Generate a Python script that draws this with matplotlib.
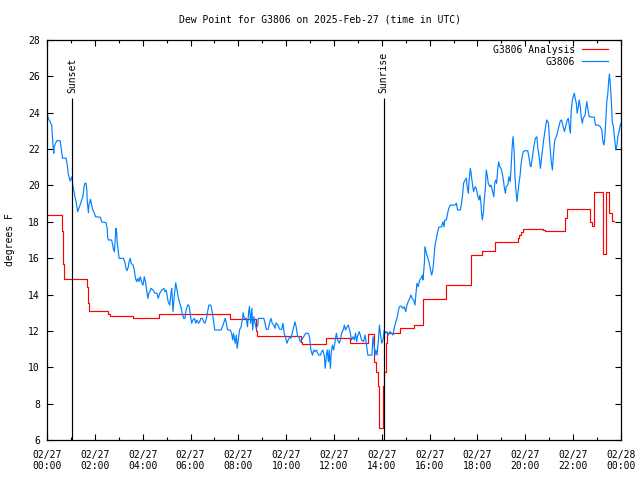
import matplotlib
matplotlib.use('Agg')
import matplotlib.pyplot as plt
from matplotlib.ticker import MultipleLocator

# station observations: (minutes after 02/27 00:00 UTC, dew point degF)
station_obs = [
    (0, 24.0), (3, 23.7), (8, 23.5), (12, 23.3), (13, 22.87), (15, 22.22), (17, 21.77), (18, 22.13), (22, 22.35),
    (25, 22.46), (33, 22.46), (35, 22.13), (37, 21.77), (39, 21.5), (48, 21.5), (50, 21.2), (52, 20.94), (53, 20.67),
    (56, 20.4), (58, 20.24), (61, 20.4), (63, 20.48), (65, 19.93), (67, 19.75), (70, 19.38), (73, 19.1), (75, 18.83),
    (77, 18.56), (80, 18.74), (83, 18.92), (87, 19.2), (90, 19.38), (93, 19.93), (95, 20.12), (98, 20.12), (100, 19.75),
    (101, 19.1), (104, 18.5), (105, 18.92), (109, 19.24), (112, 18.92), (115, 18.65), (119, 18.46), (122, 18.28),
    (134, 18.25), (137, 18.0), (148, 17.95), (151, 17.64), (152, 17.18), (154, 17.0), (162, 17.0), (165, 16.72),
    (166, 16.54), (169, 16.35), (171, 17.0), (173, 17.64), (175, 17.37), (176, 16.9), (179, 16.35), (181, 15.99),
    (192, 15.99), (196, 15.72), (198, 15.44), (201, 15.31), (204, 15.53), (206, 15.81), (209, 15.99), (211, 15.72),
    (216, 15.62), (219, 15.35), (222, 14.89), (225, 14.71), (228, 14.89), (231, 14.71), (234, 14.98), (238, 14.62),
    (241, 14.52), (244, 14.98), (247, 14.71), (250, 14.25), (253, 13.79), (256, 14.1), (258, 14.16), (261, 14.34),
    (266, 14.25), (271, 14.07), (276, 14.07), (279, 13.79), (283, 14.07), (288, 14.25), (293, 14.34), (296, 14.16),
    (299, 14.25), (302, 13.88), (304, 13.6), (308, 13.42), (311, 14.07), (313, 14.34), (316, 13.06), (319, 13.88),
    (323, 14.65), (326, 14.25), (329, 13.88), (333, 13.52), (336, 13.33), (339, 12.97), (343, 12.69), (346, 12.69),
    (349, 13.15), (353, 13.42), (356, 13.42), (359, 12.97), (363, 12.42), (366, 12.6), (370, 12.69), (373, 12.42),
    (376, 12.6), (380, 12.42), (383, 12.5), (386, 12.69), (390, 12.69), (393, 12.5), (396, 12.42), (400, 12.69),
    (403, 13.06), (406, 13.42), (411, 13.42), (415, 12.97), (418, 12.5), (421, 12.05), (437, 12.05), (440, 12.23),
    (443, 12.42), (447, 12.69), (450, 12.42), (453, 12.05), (460, 12.05), (463, 11.87), (466, 11.5), (468, 11.87),
    (472, 11.32), (475, 11.77), (477, 11.04), (480, 11.5), (483, 12.05), (487, 12.23), (490, 12.6), (492, 13.0),
    (495, 12.69), (500, 12.69), (503, 12.23), (506, 13.06), (508, 13.33), (511, 12.42), (514, 13.24), (516, 12.05),
    (519, 12.78), (522, 12.42), (525, 12.14), (529, 12.32), (530, 12.69), (544, 12.69), (547, 12.42), (550, 12.09),
    (555, 12.09), (559, 12.5), (562, 12.69), (565, 12.42), (569, 12.32), (572, 12.14), (575, 12.45), (579, 12.32),
    (584, 12.09), (589, 12.09), (592, 12.42), (595, 11.87), (599, 11.59), (602, 11.32), (605, 11.5), (609, 11.68),
    (612, 11.59), (615, 11.87), (619, 12.23), (622, 12.5), (625, 12.23), (629, 11.68), (632, 11.68), (635, 11.41),
    (639, 11.5), (644, 11.68), (649, 11.87), (656, 11.87), (659, 11.59), (662, 10.95), (666, 10.67), (669, 10.95),
    (672, 10.86), (676, 10.95), (679, 10.77), (682, 10.67), (686, 10.67), (689, 10.86), (692, 10.95), (696, 10.58),
    (698, 9.94), (701, 10.67), (703, 10.95), (706, 10.31), (708, 10.95), (711, 9.94), (713, 10.77), (716, 11.22),
    (719, 10.95), (722, 11.32), (726, 11.87), (729, 11.5), (733, 11.32), (736, 11.5), (739, 11.87), (743, 12.05),
    (746, 12.32), (749, 12.05), (753, 12.23), (756, 12.32), (761, 11.87), (764, 11.5), (768, 11.68), (771, 11.5),
    (774, 11.87), (777, 11.41), (779, 11.68), (783, 11.96), (786, 11.77), (789, 11.5), (794, 11.41), (798, 11.77),
    (801, 11.32), (805, 10.67), (815, 10.67), (818, 11.68), (820, 11.32), (823, 10.67), (825, 10.95), (828, 10.67),
    (831, 11.41), (834, 12.32), (836, 11.87), (840, 11.32), (843, 11.5), (846, 12.05), (850, 11.87), (853, 11.96),
    (856, 11.77), (860, 11.96), (865, 11.87), (868, 11.77), (871, 12.14), (875, 12.5), (878, 12.69), (881, 13.06),
    (884, 13.33), (888, 13.37), (893, 13.24), (896, 13.33), (900, 13.06), (903, 13.42), (906, 13.6), (910, 13.79),
    (913, 13.97), (916, 13.79), (920, 13.7), (923, 13.42), (926, 14.16), (928, 14.62), (931, 14.43), (935, 14.8),
    (938, 14.89), (942, 15.07), (943, 14.8), (945, 15.26), (947, 15.81), (948, 16.63), (950, 16.45), (953, 16.17),
    (957, 15.9), (960, 15.62), (963, 15.26), (965, 15.07), (968, 15.35), (970, 15.81), (973, 16.63), (977, 17.09),
    (980, 17.45), (983, 17.7), (990, 17.73), (993, 18.0), (996, 17.73), (998, 18.1), (1002, 18.1), (1005, 18.47),
    (1008, 18.74), (1012, 18.92), (1023, 18.92), (1027, 19.02), (1030, 18.65), (1037, 18.65), (1040, 19.02),
    (1043, 19.57), (1045, 20.12), (1049, 20.3), (1052, 20.4), (1054, 19.93), (1057, 19.57), (1059, 20.3),
    (1062, 20.94), (1064, 20.67), (1067, 20.12), (1070, 19.66), (1074, 19.93), (1077, 19.84), (1080, 19.47),
    (1084, 19.2), (1086, 19.47), (1088, 19.2), (1090, 18.56), (1092, 18.1), (1095, 18.56), (1097, 19.2),
    (1100, 19.93), (1102, 20.85), (1105, 20.48), (1107, 20.12), (1111, 19.93), (1114, 20.02), (1117, 19.75),
    (1121, 19.38), (1123, 20.12), (1126, 20.3), (1128, 20.12), (1131, 20.94), (1133, 21.3), (1136, 21.03),
    (1139, 20.94), (1142, 20.67), (1145, 20.3), (1147, 19.93), (1150, 19.57), (1152, 19.93), (1156, 20.02),
    (1159, 20.48), (1162, 20.21), (1164, 20.85), (1167, 22.13), (1169, 22.68), (1172, 21.86), (1174, 20.48),
    (1177, 19.57), (1179, 19.11), (1182, 19.75), (1184, 20.12), (1187, 20.57), (1189, 21.12), (1192, 21.58),
    (1195, 21.86), (1199, 21.91), (1206, 21.91), (1209, 21.58), (1212, 21.12), (1214, 21.03), (1218, 21.58),
    (1220, 21.95), (1223, 22.32), (1225, 22.59), (1229, 22.68), (1231, 22.13), (1234, 21.67), (1236, 21.3),
    (1238, 20.94), (1240, 21.4), (1243, 21.95), (1246, 22.5), (1249, 22.96), (1252, 23.42), (1254, 23.6),
    (1258, 23.42), (1260, 22.68), (1263, 21.86), (1265, 21.3), (1268, 20.85), (1270, 21.58), (1273, 22.32),
    (1275, 22.59), (1278, 22.68), (1281, 22.96), (1284, 23.23), (1288, 23.56), (1291, 23.6), (1294, 23.32),
    (1298, 22.96), (1301, 23.23), (1305, 23.6), (1308, 23.69), (1310, 23.32), (1313, 22.87), (1315, 24.06),
    (1318, 24.7), (1320, 24.88), (1323, 25.07), (1325, 24.79), (1328, 24.52), (1330, 23.97), (1333, 24.33),
    (1335, 24.7), (1338, 24.33), (1340, 23.78), (1343, 23.42), (1345, 23.69), (1350, 23.87), (1354, 24.61),
    (1356, 24.33), (1360, 23.78), (1373, 23.75), (1376, 23.32), (1383, 23.32), (1388, 23.23), (1392, 23.05),
    (1394, 22.5), (1397, 22.22), (1399, 22.5), (1402, 23.6), (1404, 24.52), (1407, 25.07), (1409, 25.71),
    (1411, 26.13), (1413, 25.62), (1416, 24.52), (1418, 23.51), (1421, 23.23), (1423, 22.78), (1426, 22.13),
    (1427, 21.95), (1430, 22.22), (1432, 22.68), (1435, 22.96), (1437, 23.23), (1440, 23.42),
]

# analysis values, step changes: (minutes, degF)
analysis_obs = [
    (0, 18.35), (38, 17.5), (41, 15.7), (43, 14.85), (100, 14.43), (102, 13.55), (105, 13.1), (154, 12.91),
    (158, 12.82), (216, 12.69), (281, 12.91), (460, 12.64), (524, 12.0), (526, 11.72), (637, 11.41), (640, 11.28),
    (699, 11.59), (760, 11.35), (805, 11.81), (821, 10.31), (825, 9.76), (830, 8.97), (834, 6.64), (842, 8.97),
    (845, 9.76), (850, 11.32), (854, 11.87), (886, 12.18), (921, 12.32), (943, 13.74), (1000, 14.51), (1063, 16.16),
    (1091, 16.39), (1124, 16.89), (1181, 17.1), (1185, 17.3), (1189, 17.45), (1193, 17.59), (1245, 17.55),
    (1250, 17.49), (1300, 18.2), (1304, 18.69), (1363, 18.0), (1366, 17.77), (1372, 19.62), (1394, 17.1),
    (1396, 16.23), (1402, 19.62), (1411, 18.5), (1417, 18.06), (1422, 18.06),
]

sunset_min = 63
sunrise_min = 845
tick_hours = list(range(0, 25, 2))
tick_labels = ['02/27\n%02d:00' % h for h in tick_hours[:-1]] + ['02/28\n00:00']

plt.rcParams['font.family'] = 'DejaVu Sans Mono'
plt.rcParams['font.size'] = 7

fig = plt.figure(figsize=(6.4, 4.8), dpi=100)
ax = fig.add_axes([47 / 640, 40 / 480, 574 / 640, 400 / 480])

at, av = zip(*analysis_obs)
st, sv = zip(*station_obs)
ax.plot([t / 60 for t in at], av, color='#ff0000', lw=0.85, drawstyle='steps-post', label='G3806 Analysis')
ax.plot([t / 60 for t in st], sv, color='#0080ff', lw=0.85, label='G3806')

for t, name in [(sunset_min, 'Sunset'), (sunrise_min, 'Sunrise')]:
    ax.vlines(t / 60, 6, 24.8, color='black', lw=0.85)
    ax.text(t / 60, 25.1, name, rotation=90, ha='center', va='bottom')

ax.set_xlim(0, 24)
ax.set_ylim(6, 28)
ax.set_xticks(tick_hours)
ax.set_xticklabels(tick_labels)
ax.xaxis.set_minor_locator(MultipleLocator(1))
ax.set_yticks(range(6, 29, 2))
ax.tick_params(which='both', direction='in', top=True, right=True, width=0.8)
ax.tick_params(which='major', length=4)
ax.tick_params(which='minor', length=2)
ax.tick_params(axis='x', pad=7)
ax.tick_params(axis='y', pad=5)
for s in ax.spines.values():
    s.set_linewidth(0.9)

ax.legend(loc='upper right', bbox_to_anchor=(1 - 6 / 574, 1 + 2 / 400), frameon=False, markerfirst=False,
          handlelength=2.7, labelspacing=0.2, borderaxespad=0.3, handletextpad=0.7)

fig.text(0.5, 1 - 20 / 480, 'Dew Point for G3806 on 2025-Feb-27 (time in UTC)', ha='center', va='center')
fig.text(10 / 640, 0.5, 'degrees F', rotation=90, ha='center', va='center')

fig.savefig('out.png', dpi=100)
